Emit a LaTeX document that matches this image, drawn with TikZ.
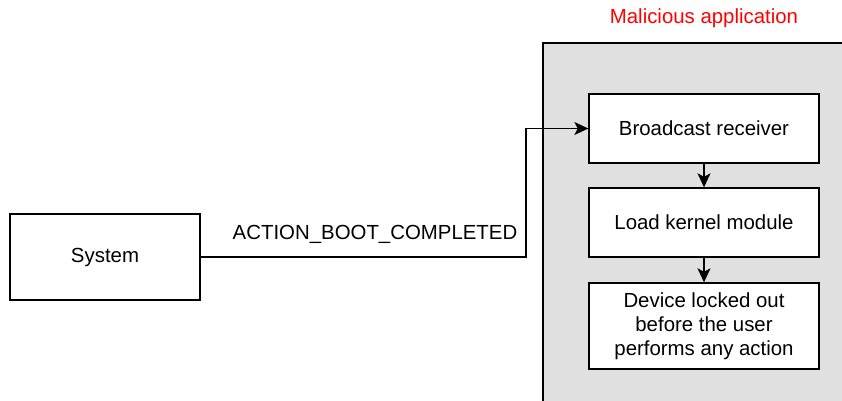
\documentclass[tikz,border=0pt]{standalone}
\usepackage{fontspec}
\setmainfont{Liberation Sans}
\usetikzlibrary{arrows.meta}
\begin{document}
\begin{tikzpicture}[x=1pt,y=-1pt,
  every node/.style={font=\fontsize{20.4}{24}\selectfont},
  box/.style={draw=black,line width=1.4pt,fill=white,minimum width=230pt,minimum height=69pt,align=center,inner sep=0pt},
  flow/.style={draw=black,line width=1.4pt,-{Stealth[length=14pt,width=13pt,inset=3.5pt]}}]
\useasboundingbox (0,0) rectangle (842,400);
\definecolor{panelgray}{RGB}{224,224,224}
% application container
\fill[panelgray] (543,43) rectangle (860,420);
\draw[line width=1.4pt] (543,420) -- (543,43) -- (860,43);
\node[text=red] (title) at (704,18) {Malicious application};
% nodes
\node[box,minimum width=190pt,minimum height=86pt] (sys) at (105,257) {\raisebox{-1.5pt}{System}};
\node[box] (recv) at (704,128.5) {\raisebox{-1.5pt}{Broadcast receiver}};
\node[box] (load) at (704,222.5) {\raisebox{-1.5pt}{Load kernel module}};
\node[box,minimum height=86pt] (lock) at (704,326) {Device locked out\\before the user\\performs any action};
\coordinate (bend) at (526,257);
% connectors
\draw[flow] (sys.east) -- (bend) |- (recv.west);
\node (lbl) at (375,234) {ACTION\_BOOT\_COMPLETED};
\draw[flow] (recv) -- (load);
\draw[flow] (load) -- (lock);
\end{tikzpicture}
\end{document}
